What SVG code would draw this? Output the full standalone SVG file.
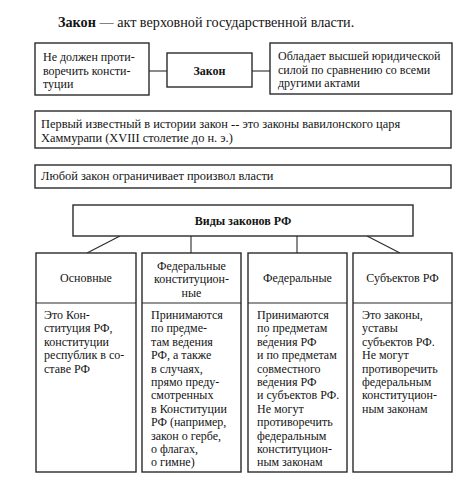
<svg xmlns="http://www.w3.org/2000/svg" width="472" height="493" viewBox="0 0 472 493">
<style>
text{font-family:"Liberation Serif","Times New Roman",serif;fill:#141414;font-size:12px}
.b{font-weight:bold}
.c{text-anchor:middle}
.w{font-size:12.4px}
.box{fill:#fff;stroke:#2a2a2a;stroke-width:1.4}
.ln{stroke:#2a2a2a;stroke-width:1.1;fill:none}
</style>
<rect width="472" height="493" fill="#fff"/>
<text x="58" y="27" style="font-size:14.2px"><tspan class="b">Закон</tspan> — акт верховной государственной власти.</text>
<g id="connectors">
<line class="ln" x1="149" y1="71" x2="167" y2="71"/>
<line class="ln" x1="252" y1="71" x2="270" y2="71"/>
<line class="ln" x1="120" y1="236" x2="87" y2="253"/>
<line class="ln" x1="191" y1="236" x2="191" y2="253"/>
<line class="ln" x1="297" y1="236" x2="297" y2="253"/>
<line class="ln" x1="367" y1="236" x2="400" y2="253"/>
</g>
<g id="n-constitution">
<rect class="box" x="35" y="43" width="114" height="52"/>
<text x="43" y="61">Не должен проти-</text>
<text x="43" y="74.5">воречить консти-</text>
<text x="43" y="88">туции</text>
</g>
<g id="n-zakon">
<rect class="box" x="167" y="53" width="85" height="34"/>
<text class="b c" x="209.5" y="75">Закон</text>
</g>
<g id="n-power">
<rect class="box" x="270" y="43" width="182" height="51"/>
<text x="278" y="60">Обладает высшей юридической</text>
<text x="278" y="73.5">силой по сравнению со всеми</text>
<text x="278" y="87">другими актами</text>
</g>
<g id="n-first">
<rect class="box" x="35" y="111" width="416" height="37"/>
<text class="w" x="41" y="128">Первый известный в истории закон -- это законы вавилонского царя</text>
<text class="w" x="41" y="142">Хаммурапи (XVIII столетие до н. э.)</text>
</g>
<g id="n-limit">
<rect class="box" x="35" y="165" width="416" height="23"/>
<text class="w" x="41" y="180">Любой закон ограничивает произвол власти</text>
</g>
<g id="n-types">
<rect class="box" x="73" y="205" width="340" height="31"/>
<text class="b c" x="243" y="225">Виды законов РФ</text>
</g>
<g id="n-basic">
<rect class="box" x="36" y="253" width="100" height="219"/>
<line class="ln" x1="36" y1="303" x2="136" y2="303"/>
<text class="c" x="86" y="282">Основные</text>
<text x="44" y="319">Это Кон-</text>
<text x="44" y="332.4">ституция РФ,</text>
<text x="44" y="345.8">конституции</text>
<text x="44" y="359.2">республик в со-</text>
<text x="44" y="372.6">ставе РФ</text>
</g>
<g id="n-fkz">
<rect class="box" x="142" y="253" width="99" height="219"/>
<line class="ln" x1="142" y1="303" x2="241" y2="303"/>
<text class="c" x="191.5" y="270">Федеральные</text>
<text class="c" x="191.5" y="283.4">конституцион-</text>
<text class="c" x="191.5" y="296.8">ные</text>
<text x="151" y="319">Принимаются</text>
<text x="151" y="332.4">по предме-</text>
<text x="151" y="345.8">там ве́дения</text>
<text x="151" y="359.2">РФ, а также</text>
<text x="151" y="372.6">в случаях,</text>
<text x="151" y="386">прямо преду-</text>
<text x="151" y="399.4">смотренных</text>
<text x="151" y="412.8">в Конституции</text>
<text x="151" y="426.2">РФ (например,</text>
<text x="151" y="439.6">закон о гербе,</text>
<text x="151" y="453">о флагах,</text>
<text x="151" y="466.4">о гимне)</text>
</g>
<g id="n-fz">
<rect class="box" x="248" y="253" width="99" height="219"/>
<line class="ln" x1="248" y1="303" x2="347" y2="303"/>
<text class="c" x="297.5" y="282">Федеральные</text>
<text x="257" y="319">Принимаются</text>
<text x="257" y="332.4">по предметам</text>
<text x="257" y="345.8">ве́дения РФ</text>
<text x="257" y="359.2">и по предметам</text>
<text x="257" y="372.6">совместного</text>
<text x="257" y="386">ве́дения РФ</text>
<text x="257" y="399.4">и субъектов РФ.</text>
<text x="257" y="412.8">Не могут</text>
<text x="257" y="426.2">противоречить</text>
<text x="257" y="439.6">федеральным</text>
<text x="257" y="453">конституцион-</text>
<text x="257" y="466.4">ным законам</text>
</g>
<g id="n-subj">
<rect class="box" x="353" y="253" width="99" height="219"/>
<line class="ln" x1="353" y1="303" x2="452" y2="303"/>
<text class="c" x="402.5" y="282">Субъектов РФ</text>
<text x="362" y="319">Это законы,</text>
<text x="362" y="332.4">уставы</text>
<text x="362" y="345.8">субъектов РФ.</text>
<text x="362" y="359.2">Не могут</text>
<text x="362" y="372.6">противоречить</text>
<text x="362" y="386">федеральным</text>
<text x="362" y="399.4">конституцион-</text>
<text x="362" y="412.8">ным законам</text>
</g>
</svg>
